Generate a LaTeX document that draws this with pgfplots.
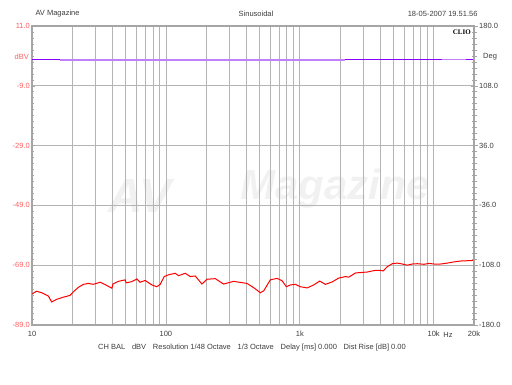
\documentclass[border=0pt]{standalone}
\usepackage{fontspec}
\setmainfont{Liberation Sans}
\newfontfamily\cliofont{Liberation Serif}
\usepackage{pgfplots}
\pgfplotsset{compat=1.18}
\definecolor{gridgray}{RGB}{180,180,180}
\definecolor{framegray}{RGB}{165,165,165}
\definecolor{txt}{RGB}{60,60,60}
\definecolor{lbl}{RGB}{255,95,95}
\definecolor{purpdark}{RGB}{140,0,255}
\definecolor{purplight}{RGB}{192,128,250}
\begin{document}
\begin{tikzpicture}[x=1pt,y=1pt]
\useasboundingbox (0,0) rectangle (512,384);
\begin{scope}[font=\fontsize{7.5}{9}\selectfont, text=txt]
\node[anchor=west] at (32,370) {AV Magazine};
\node at (256,370) {Sinusoidal};
\node[anchor=east] at (481,370) {18-05-2007 19.51.56};
\node at (252,36.3) {CH BAL\hspace{0.9em}dBV\hspace{0.9em}Resolution 1/48 Octave\hspace{0.9em}1/3 Octave\hspace{0.9em}Delay [ms] 0.000\hspace{0.9em}Dist Rise [dB] 0.00};
\node at (448,49) {Hz};
\end{scope}
% faint watermark
\node[text=gray!11, font=\fontsize{48}{48}\selectfont\bfseries\itshape] at (140,188) {AV};
\node[text=gray!11, font=\fontsize{42}{42}\selectfont\bfseries\itshape] at (335,195) {Magazine};
\begin{axis}[
  at={(32pt,59pt)}, anchor=south west, scale only axis,
  width=442pt, height=299pt,
  xmode=log, xmin=10, xmax=20000, ymin=-89, ymax=11,
  xtick={10,100,1000,10000,20000},
  xticklabels={10,100,1k,10k,20k},
  minor xtick={20,30,40,50,60,70,80,90,200,300,400,500,600,700,800,900,2000,3000,4000,5000,6000,7000,8000,9000},
  x tick style={draw=none},
  ytick={-89,-69,-49,-29,-9,11},
  yticklabels={-89.0,-69.0,-49.0,-29.0,-9.0,11.0},
  minor y tick num=9,
  tick align=inside,
  major tick length=3pt, minor tick length=2.5pt,
  y tick style={framegray, line width=0.6pt},
  xmajorgrids, xminorgrids, ymajorgrids,
  major grid style={gridgray, line width=0.8pt},
  minor grid style={gridgray, line width=0.8pt},
  axis line style={framegray, line width=1.4pt},
  ticklabel style={font=\fontsize{7.5}{9}\selectfont},
  xticklabel style={text=txt, yshift=-2.5pt},
  yticklabel style={text=lbl, inner sep=1pt, xshift=-1pt},
  clip=false,
]
\addplot[purpdark, line width=0.9pt] coordinates {(10,-0.2) (20000,-0.2)};
\addplot[purplight, line width=1.8pt] coordinates {(16.2,-0.4) (2190,-0.4)};
\addplot[purplight, line width=1.8pt] coordinates {(11500,-0.2) (17300,-0.2)};
\addplot[red, line width=1pt] coordinates {
(10.05,-78.6) (10.8,-77.7) (11.8,-78.2) (13.24,-79.3) (14.04,-81.3) (15.3,-80.4)
(17.14,-79.7) (19.24,-79.1) (20.37,-77.9) (22.2,-76.4) (24.2,-75.4) (26.4,-75.1)
(28.7,-75.4) (32.3,-74.7) (35.2,-75.5) (39.5,-76.7) (40.2,-75.3) (44.2,-74.4)
(49.6,-73.9) (50.5,-74.9) (55.7,-74.5) (60.7,-73.6) (64.2,-74.7) (70.0,-74.1)
(78.6,-75.6) (85.6,-76.2) (90.7,-75.4) (97.1,-72.8) (104.6,-72.2) (117.4,-71.7)
(124.3,-72.5) (139.4,-71.7) (152,-72.8) (165.6,-72.6) (185.9,-75.3) (202.6,-73.7)
(233.7,-73.5) (269.8,-75.3) (320.4,-74.4) (403.5,-75.1) (452,-76.5) (507.3,-78.2)
(537,-77.6) (602.7,-73.9) (676.5,-73.4) (737.4,-74.2) (793.9,-76.2) (850.6,-75.6)
(927.1,-75.4) (1010,-76.2) (1134,-76.6) (1271,-75.6) (1409,-74.3) (1554,-75.4)
(1744,-74.6) (1954,-73.3) (2193,-72.8) (2321,-73.0) (2605,-71.6) (2924,-71.4)
(3186,-71.3) (3570,-70.8) (3892,-70.7) (4198,-70.9) (4498,-69.5) (4903,-68.5)
(5343,-68.3) (5826,-68.6) (6348,-69.0) (6918,-68.6) (7542,-68.5) (8449,-68.7)
(9208,-68.4) (10035,-68.6) (11264,-68.6) (12640,-68.3) (14160,-67.9) (15890,-67.6)
(17840,-67.5) (20000,-67.4)};
\node[anchor=east, text=lbl, font=\fontsize{7.5}{9}\selectfont, inner sep=0pt] at (rel axis cs:0,0.896) [xshift=-3pt] {dBV};
\node[anchor=east, text=black, font=\fontsize{7}{8}\cliofont\bfseries, inner sep=0pt] at (rel axis cs:1,0.978) [xshift=-3pt] {CLIO};
\end{axis}
\begin{axis}[
  at={(32pt,59pt)}, anchor=south west, scale only axis,
  width=442pt, height=299pt,
  xmin=0, xmax=1, ymin=-180, ymax=180,
  hide x axis,
  axis y line*=right,
  ytick={-180,-108,-36,36,108,180},
  yticklabels={-180.0,-108.0,-36.0,36.0,108.0,180.0},
  minor y tick num=9,
  tick align=outside,
  major tick length=4pt, minor tick length=3pt,
  y tick style={framegray, line width=0.6pt},
  axis line style={framegray, line width=1.4pt},
  ticklabel style={font=\fontsize{7.5}{9}\selectfont},
  yticklabel style={text=txt, inner sep=1pt},
  clip=false,
]
\node[anchor=west, text=txt, font=\fontsize{7.5}{9}\selectfont, inner sep=0pt] at (rel axis cs:1,0.896) [xshift=9pt] {Deg};
\end{axis}
\end{tikzpicture}
\end{document}
